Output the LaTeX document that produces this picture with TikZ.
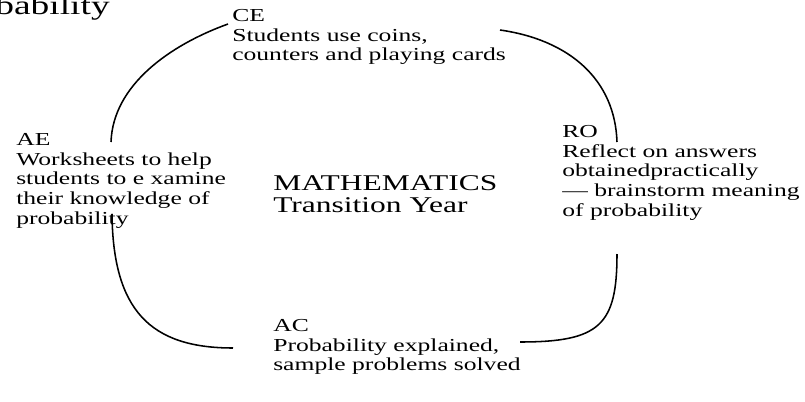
\documentclass[tikz,border=0pt]{standalone}
\usepackage{fontspec}
\setmainfont{Liberation Serif}[FakeStretch=1.4]
\usetikzlibrary{positioning}

\begin{document}
\begin{tikzpicture}[
    x=0.025cm, y=-0.025cm,
    % Style for the text blocks round the cycle
    block/.style = {anchor=north west, inner sep=0pt, align=left, font=\fontsize{13}{14}\selectfont},
    % Style for the hand-drawn arcs between the blocks
    loopline/.style = {line width=1.1pt, black}
]
    \useasboundingbox (0,0) rectangle (805,402);

    % --- HEADING (cut off at the page edge) ---
    \node[anchor=base east, inner sep=0pt, font=\fontsize{19}{19}\selectfont] (head) at (110,14) {Probability};

    % --- CENTRE ---
    \node[block, font=\fontsize{16}{15.6}\selectfont] (maths) at (273,175) {MATHEMATICS\\Transition Year};

    % --- THE FOUR STAGES ---
    \node[block] (CE) at (232,9) {CE\\Students use coins,\\counters and playing cards};
    \node[block] (RO) at (562,125) {RO\\Reflect on answers\\obtainedpractically\\--- brainstorm meaning\\of probability};
    \node[block] (AC) at (273,319) {AC\\Probability explained,\\sample problems solved};
    \node[block] (AE) at (16,133) {AE\\Worksheets to help\\students to e xamine\\their knowledge of\\probability};

    % --- ARC ENDS ---
    \coordinate (CEw) at (228,24);
    \coordinate (CEe) at (500,30);
    \coordinate (ROn) at (617,142);
    \coordinate (ROs) at (617,254);
    \coordinate (ACe) at (520,342);
    \coordinate (ACw) at (233,348);
    \coordinate (AEs) at (112,214);
    \coordinate (AEn) at (111,142);

    % --- CYCLE ---
    \draw[loopline] (CEw) .. controls (170,45) and (113,85) .. (AEn);
    \draw[loopline] (CEe) .. controls (570,40) and (615,80) .. (ROn);
    \draw[loopline] (ROs) .. controls (617,325) and (600,342) .. (ACe);
    \draw[loopline] (AEs) .. controls (113,310) and (150,348) .. (ACw);

\end{tikzpicture}
\end{document}
